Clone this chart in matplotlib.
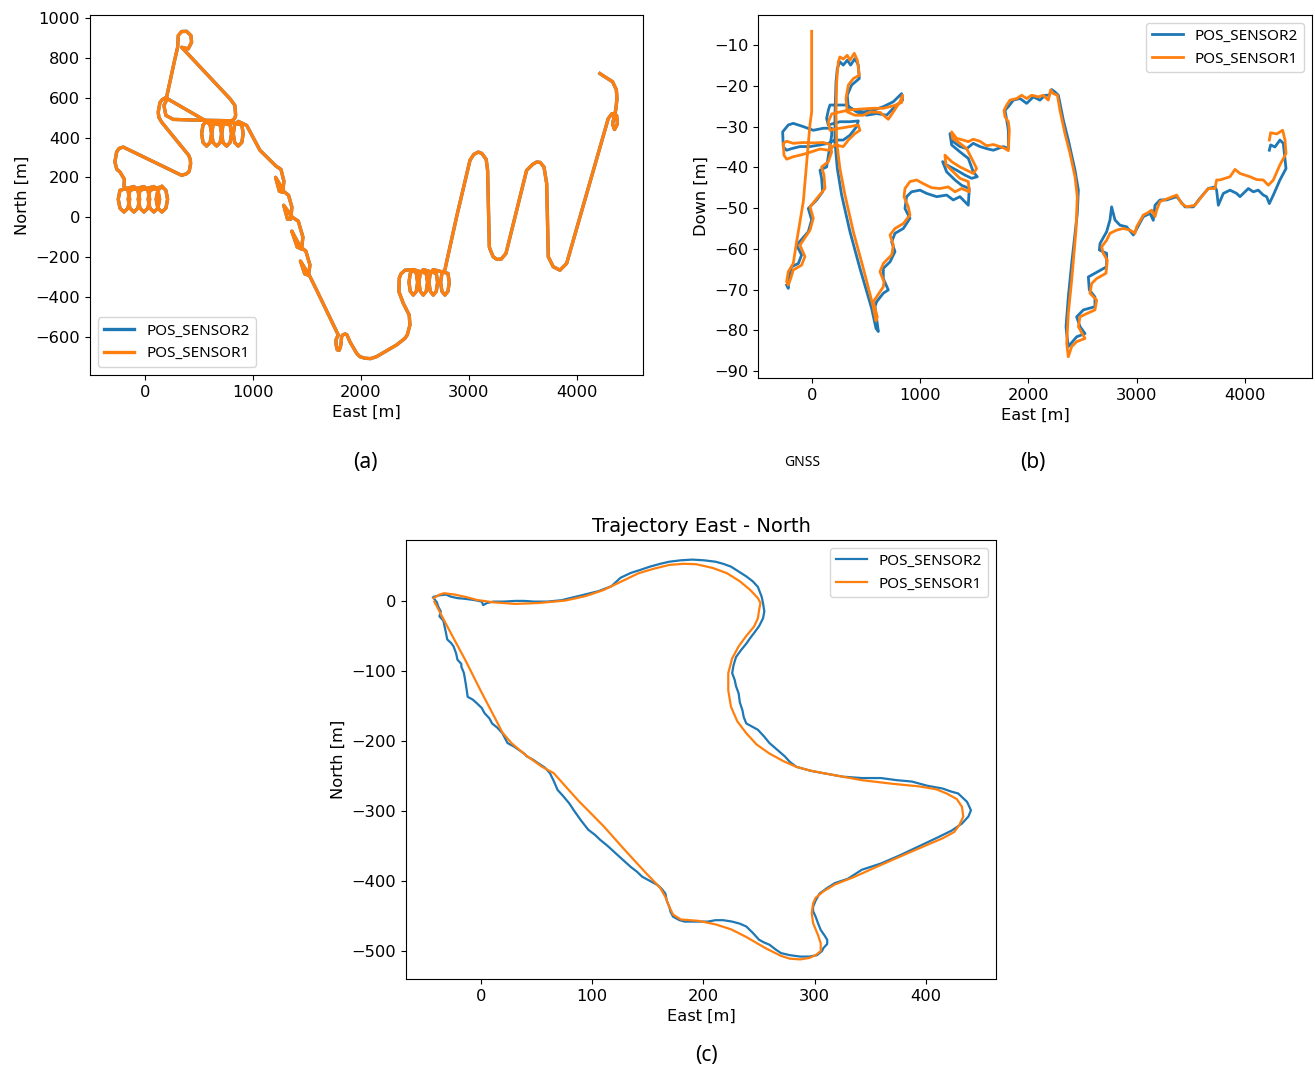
import matplotlib
matplotlib.use('Agg')
import matplotlib.pyplot as plt

BLUE = '#1f77b4'
ORANGE = '#ff7f0e'
LBL_FONT = ['Noto Sans', 'DejaVu Sans']

# ---------------- panel (a): East / North of the long flight (both sensors overlap)
a_pts = [
    (4213, 721), (4269, 701), (4330, 680), (4365, 640), (4371, 596), (4360, 540), (4343, 500),
    (4330, 468), (4348, 440), (4375, 468), (4368, 510), (4325, 520), (4290, 495),
    (3905, -232), (3843, -266), (3781, -249), (3735, -199), (3720, 169), (3695, 252), (3660, 275),
    (3627, 277), (3590, 265), (3534, 235), (3343, -182), (3300, -210), (3260, -212), (3225, -199),
    (3195, -160), (3189, -149), (3173, 235), (3160, 290), (3120, 320), (3086, 327), (3045, 315),
    (3010, 286), (2886, 2),
    (2778, -263), (2750, -282), (2738, -327), (2750, -372), (2778, -391), (2806, -372), (2818, -327), (2806, -282),
    (2670, -263), (2642, -282), (2630, -327), (2642, -372), (2670, -391), (2698, -372), (2710, -327), (2698, -282),
    (2577, -263), (2549, -282), (2537, -327), (2549, -372), (2577, -391), (2605, -372), (2617, -327), (2605, -282),
    (2485, -263), (2457, -282), (2445, -327), (2457, -372), (2485, -391), (2513, -372), (2525, -327), (2513, -282),
    (2485, -263),
    (2408, -266), (2370, -285), (2355, -307), (2352, -374), (2392, -432), (2447, -491), (2454, -541),
    (2430, -590), (2408, -608), (2331, -641), (2145, -700), (2090, -710), (2037, -708), (1990, -700),
    (1960, -683), (1898, -625), (1870, -590), (1852, -586), (1830, -592), (1821, -600), (1815, -640),
    (1800, -668), (1781, -666), (1770, -640), (1769, -616), (1790, -591),
    (1590, -366), (1530, -300), (1440, -220), (1480, -285), (1515, -291), (1528, -240), (1490, -170),
    (1440, -150), (1360, -70), (1410, -150), (1450, -160), (1463, -100), (1420, -20), (1365, 0),
    (1285, 60), (1320, -10), (1350, -10), (1361, 50), (1330, 110), (1290, 127), (1210, 200),
    (1245, 130), (1275, 125), (1287, 180), (1260, 240), (1215, 256), (1065, 336), (942, 461),
    (864, 481), (831, 463), (818, 419), (831, 375), (864, 357), (897, 375), (910, 419), (897, 463),
    (756, 481), (723, 463), (710, 419), (723, 375), (756, 357), (789, 375), (802, 419), (789, 463),
    (664, 481), (631, 463), (618, 419), (631, 375), (664, 357), (697, 375), (710, 419), (697, 463),
    (571, 481), (538, 463), (525, 419), (538, 375), (571, 357), (604, 375), (617, 419), (604, 463),
    (571, 481),
    (540, 491), (207, 595), (176, 561), (194, 511), (262, 491), (417, 488), (803, 484), (830, 495),
    (840, 511), (833, 561), (787, 595), (340, 853), (401, 845), (432, 878), (426, 912), (386, 933),
    (340, 932), (309, 912), (303, 853), (278, 795), (231, 678), (201, 603), (160, 590), (139, 575),
    (123, 527), (130, 500), (155, 477), (405, 311), (420, 290), (423, 269), (410, 230), (386, 218),
    (340, 210), (-201, 352), (-240, 345), (-262, 327), (-278, 277), (-260, 240), (-231, 227), (-190, 190),
    (-194, 154), (-157, 135), (-141, 90), (-157, 45), (-194, 26), (-231, 45), (-247, 90), (-231, 135),
    (-102, 154), (-65, 135), (-49, 90), (-65, 45), (-102, 26), (-139, 45), (-155, 90), (-139, 135),
    (-9, 154), (28, 135), (44, 90), (28, 45), (-9, 26), (-46, 45), (-62, 90), (-46, 135),
    (83, 154), (120, 135), (136, 90), (120, 45), (83, 26), (46, 45), (30, 90), (46, 135),
    (157, 154), (194, 135), (210, 90), (194, 45), (157, 26), (120, 45), (104, 90), (120, 135), (157, 154),
]
a_east = [p[0] for p in a_pts]
a_north = [p[1] for p in a_pts]

# ---------------- panel (b): East / Down
b_s1 = [
    (4225, -33.3), (4237, -31.5), (4293, -31.8), (4348, -30.9), (4370, -33.3), (4379, -36.6), (4323, -39.4),
    (4262, -43.1), (4216, -44.4), (4169, -43.1), (4108, -43.0), (4046, -42.3), (3954, -41.5), (3908, -40.5),
    (3862, -42.3), (3769, -43.1), (3738, -43.1), (3723, -45.2), (3661, -45.2), (3600, -47.2), (3538, -49.3),
    (3461, -49.7), (3415, -48.9), (3369, -46.8), (3292, -47.6), (3215, -48.4), (3184, -50.5), (3169, -52.1),
    (3138, -50.5), (3092, -51.3), (3061, -51.7), (2999, -54.6), (2984, -56.2), (2938, -55.4), (2876, -55.0),
    (2815, -55.4), (2753, -56.2), (2722, -57.9), (2676, -59.5), (2691, -61.1), (2728, -62.8), (2716, -66.0),
    (2630, -67.3), (2584, -68.5), (2568, -70.9), (2630, -72.6), (2614, -75.0), (2538, -75.9), (2476, -76.7),
    (2461, -79.1), (2522, -82.0), (2445, -82.8), (2399, -84.0), (2368, -86.5), (2353, -83.2), (2368, -75.9),
    (2399, -67.7), (2439, -55.4), (2451, -47.2), (2430, -42.3), (2384, -36.6), (2337, -31.7), (2291, -26.0),
    (2267, -22.3), (2230, -21.9), (2205, -21.0), (2183, -23.5), (2137, -22.3), (2091, -22.7), (2030, -22.3),
    (1983, -23.1), (1937, -22.3), (1891, -23.1), (1829, -23.5), (1799, -24.7), (1774, -26.0), (1783, -27.6),
    (1814, -28.8), (1823, -30.9), (1814, -35.9), (1783, -35.4), (1737, -34.9),
    (1675, -34.4), (1613, -34.7), (1552, -33.6), (1490, -33.1), (1444, -33.7), (1398, -33.3), (1336, -32.9),
    (1290, -31.3), (1299, -32.9), (1367, -34.1), (1429, -35.4), (1490, -38.6), (1521, -40.3), (1490, -41.5),
    (1429, -40.7), (1367, -39.9), (1290, -38.6), (1228, -37.0), (1238, -39.4), (1305, -41.1), (1367, -42.7),
    (1444, -43.5), (1453, -46.0), (1382, -45.2), (1321, -46.0), (1259, -44.8), (1182, -45.2), (1105, -45.0),
    (1028, -44.0), (967, -43.1), (905, -43.5), (859, -45.2), (850, -47.2), (890, -49.7), (905, -51.7),
    (844, -53.8), (767, -55.0), (721, -56.6), (752, -59.1), (736, -61.5), (659, -63.6), (628, -65.6),
    (665, -68.1), (659, -69.3), (597, -71.8), (566, -73.0), (582, -74.6), (603, -76.7), (591, -77.7),
    (566, -74.2), (474, -64.8), (382, -55.8), (305, -46.8), (258, -40.3), (228, -33.7), (222, -27.2),
    (228, -19.0), (243, -14.1), (258, -12.9), (289, -13.4), (326, -12.5), (351, -13.7), (391, -12.0),
    (419, -13.7), (437, -17.4), (382, -18.2), (336, -19.8), (314, -23.1), (326, -26.4), (397, -27.2),
    (474, -27.2), (536, -26.4), (628, -26.5), (705, -28.2), (751, -26.4), (813, -23.9), (837, -22.3),
    (828, -24.1), (751, -24.9), (659, -25.5), (567, -25.5), (443, -25.7), (351, -25.9), (258, -26.4),
    (182, -26.9), (151, -28.8), (166, -30.9), (258, -30.4), (351, -30.0), (428, -29.6), (443, -30.9),
    (397, -31.7), (336, -33.3), (289, -34.9), (212, -34.5), (151, -35.8), (74, -35.5), (-18, -36.3),
    (-80, -36.8), (-173, -37.4), (-234, -38.0), (-259, -37.0), (-265, -34.1), (-234, -33.6), (-173, -34.1),
    (-80, -33.9), (12, -34.0), (105, -33.9), (166, -34.4), (182, -36.2),
    (151, -38.6), (89, -39.9), (111, -41.9), (120, -45.2), (58, -47.2), (-18, -49.7), (12, -52.5),
    (-18, -55.4), (-111, -59.1), (-65, -61.9), (-96, -64.0), (-173, -65.2), (-197, -67.3), (-219, -68.9),
    (-234, -68.1), (-219, -65.6), (-173, -63.6), (-142, -58.3), (-80, -48.4), (-19, -29.6), (-3, -26.4),
    (-3, -6.6),
]
b_s2 = [
    (4225, -35.8), (4237, -34.5), (4277, -35.0), (4323, -33.3), (4354, -34.1), (4379, -40.3), (4323, -43.1),
    (4262, -46.8), (4225, -48.9), (4200, -47.2), (4169, -46.8), (4123, -45.6), (4077, -46.0), (4031, -45.2),
    (3954, -47.2), (3923, -46.4), (3862, -45.6), (3800, -46.4), (3754, -49.3), (3738, -45.6), (3723, -44.8),
    (3661, -45.2), (3584, -47.6), (3523, -49.7), (3446, -49.7), (3369, -47.2), (3277, -48.0), (3215, -48.0),
    (3169, -49.3), (3153, -53.0), (3123, -51.3), (3061, -52.1), (2969, -56.6), (2907, -54.6), (2845, -54.2),
    (2799, -52.9), (2768, -49.7), (2753, -52.9), (2722, -55.8), (2661, -58.7), (2655, -60.3), (2722, -61.1),
    (2722, -64.4), (2614, -66.0), (2553, -66.9), (2562, -70.1), (2614, -71.8), (2614, -74.2), (2507, -75.0),
    (2445, -76.7), (2476, -79.1), (2522, -80.8), (2445, -81.6), (2368, -84.0), (2353, -80.8), (2347, -79.1),
    (2368, -71.8), (2399, -63.6), (2451, -51.3), (2461, -45.6), (2430, -40.7), (2368, -33.3), (2322, -28.4),
    (2276, -22.3), (2245, -21.5), (2214, -20.9), (2193, -22.3), (2153, -22.3), (2106, -23.5), (2045, -22.7),
    (1983, -24.3), (1922, -23.1), (1860, -23.5), (1814, -25.1), (1783, -26.0), (1799, -28.4), (1814, -30.9),
    (1814, -35.4), (1768, -34.9), (1737, -35.2),
    (1675, -35.8), (1613, -35.4), (1552, -34.9), (1490, -34.1), (1429, -35.4), (1367, -34.9), (1305, -33.7),
    (1275, -31.7), (1290, -34.5), (1367, -36.2), (1444, -37.8), (1490, -41.1), (1527, -42.3), (1475, -42.7),
    (1413, -41.9), (1336, -40.7), (1244, -39.4), (1207, -38.6), (1244, -41.1), (1321, -43.1), (1382, -44.4),
    (1453, -45.2), (1444, -49.3), (1367, -47.2), (1305, -48.0), (1244, -46.8), (1152, -47.2), (1059, -46.4),
    (998, -45.6), (920, -46.0), (874, -47.2), (859, -50.1), (905, -52.5), (844, -55.0), (767, -56.2),
    (736, -58.3), (767, -60.7), (721, -63.2), (659, -64.8), (659, -67.3), (705, -70.1), (659, -70.9),
    (597, -73.0), (582, -74.2), (613, -80.3), (591, -79.5), (551, -74.6), (443, -64.8), (351, -55.8),
    (274, -46.8), (234, -40.3), (212, -33.7), (212, -27.2), (222, -19.0), (234, -15.7), (258, -14.1),
    (289, -14.9), (326, -13.7), (357, -14.9), (397, -13.3), (428, -14.9), (437, -18.2), (366, -19.8),
    (326, -22.3), (336, -25.5), (397, -25.9),
    (474, -26.4), (567, -26.0), (659, -25.1), (751, -23.9), (828, -21.9), (837, -23.5), (751, -25.5),
    (690, -27.2), (597, -26.8), (505, -27.2), (413, -26.4), (320, -24.7), (243, -24.7), (166, -24.7),
    (151, -26.0), (135, -28.0), (151, -29.6), (258, -28.8), (351, -28.8), (428, -28.6), (413, -30.0),
    (351, -32.1), (289, -33.3), (212, -33.3), (151, -34.1), (74, -34.5), (-18, -34.9), (-111, -34.9),
    (-188, -35.4), (-234, -35.8), (-265, -35.0), (-271, -31.3), (-219, -29.6), (-173, -29.2), (-80, -30.0),
    (12, -30.9), (105, -30.4), (182, -30.4), (182, -32.1),
    (135, -39.9), (74, -40.7), (89, -42.7), (98, -46.0), (43, -48.0), (-34, -50.1), (-3, -52.9),
    (-34, -55.8), (-142, -59.1), (-96, -61.5), (-126, -63.6), (-188, -64.4), (-209, -66.4), (-219, -69.7),
    (-234, -68.9),
]
b_east_s1 = [p[0] for p in b_s1]
b_down_s1 = [p[1] for p in b_s1]
b_east_s2 = [p[0] for p in b_s2]
b_down_s2 = [p[1] for p in b_s2]

# ---------------- panel (c): closed lap, East / North
c_s1 = [
    (-42.5, 3.9), (-37.3, 9), (-33.1, 11), (-23.4, 9), (-11.9, 5), (-3.7, 1.4), (11.2, -2), (30.8, -4.3),
    (51.6, -3), (75.8, 0.5), (94.3, 7), (110.4, 15.7), (126.6, 28), (141.6, 39.5), (155.4, 46), (169.3, 51.4),
    (182, 53), (193.5, 52.4), (208.5, 47), (221.2, 39.5), (232.7, 28), (242, 15.7), (248.9, 4), (251.2, -3),
    (250, -13), (248.9, -25), (245.4, -36.7), (238.5, -50), (231.6, -65), (225.8, -82), (222.3, -103),
    (222.3, -128), (224.7, -151), (230.4, -172), (238.5, -189), (247.7, -205), (259.3, -218), (272, -229),
    (283.5, -237), (295, -242), (307.7, -246), (325, -251), (342.3, -256), (368.9, -261), (394.3, -265),
    (409.2, -269), (418.5, -275), (427.7, -283), (432.3, -294), (433.5, -308), (430, -320), (425.4, -330),
    (415, -339), (404.6, -346), (382.7, -361), (359.6, -377), (334.3, -395), (318.1, -405), (307.7, -415),
    (300.8, -424), (298.5, -432), (297.3, -446), (298.5, -460), (303.1, -478), (305.4, -489), (305.4, -500),
    (300.8, -506), (295, -510), (287, -512), (277.7, -511), (269.7, -507), (255.8, -496), (238.5, -480),
    (224.7, -469), (210.8, -462), (195.8, -457), (179.7, -455), (172.7, -448), (169.3, -437), (165.8, -423),
    (161.2, -410), (148.5, -389), (130, -357), (110.4, -322), (87.4, -285), (65.4, -246), (55, -237),
    (40, -220), (27.4, -203), (19.3, -188), (13.5, -170), (-0.3, -128), (-14.2, -84), (-25.7, -50),
    (-35, -22), (-39.6, -8), (-41.9, -1),
]
c_s2 = [
    (-43, 5), (-39.6, -2), (-38.4, -8), (-36.1, -15), (-37.3, -22), (-33.8, -28), (-32.6, -37), (-31.5, -45),
    (-30.3, -55), (-26.9, -60), (-24.6, -65), (-22.3, -75), (-21.1, -84), (-17.6, -90), (-17.6, -94),
    (-15.3, -103), (-14.2, -113), (-13, -125), (-11.9, -137), (-7.3, -141), (-3.8, -146), (0.8, -153),
    (3.1, -160), (7.7, -168), (10, -175), (14.7, -181), (19.3, -189), (21.6, -196), (23.9, -203),
    (29.7, -208), (34.3, -213), (38.9, -218), (41.2, -222), (47, -227), (51.6, -232), (57.4, -238),
    (62, -246), (65.4, -257), (68.9, -270), (73.5, -278), (79.3, -289), (83.9, -300), (89.7, -313),
    (93.1, -320), (96.6, -327), (102.4, -334), (107, -341), (113.9, -350), (120.8, -360), (127.7, -370),
    (134.7, -380), (140.4, -387), (145, -394), (152, -400), (158.9, -406), (162.3, -411), (165.8, -418),
    (167, -428), (169.3, -437), (170.4, -444), (172.7, -451), (178.5, -456), (183.1, -458), (193.5, -458),
    (203.9, -458), (210.8, -456), (217.7, -456), (225.8, -458), (232.7, -461), (238.5, -465), (244.3, -474),
    (250, -484), (254.7, -488), (259.3, -491), (265, -498), (269.7, -503), (277.7, -506), (287, -508),
    (295, -508), (302, -506), (306.6, -500), (307.7, -496), (311.2, -490), (311.2, -484), (308.9, -478),
    (305.4, -470), (303.1, -461), (300.8, -451), (298.5, -443), (298.5, -437), (300.8, -428), (304.3, -418),
    (311.2, -410), (318.1, -403), (329.6, -397), (342.3, -384), (359.6, -375), (377, -363), (394.3, -350),
    (411.6, -337), (423.1, -328), (432.3, -318), (438.1, -308), (440.4, -299), (436.9, -287), (428.9, -275),
    (422, -272), (415, -268), (401.2, -264), (387.3, -258), (373.5, -256), (359.6, -253), (342.3, -253),
    (325, -251), (311.2, -247), (297.3, -243), (283.5, -237), (277.7, -230), (273.1, -222), (267.3, -214),
    (259.3, -203), (254.7, -194), (248.9, -184), (243.1, -179), (238.5, -175), (236.2, -166), (235, -156),
    (232.7, -145), (231.6, -132), (229.3, -122), (228.1, -113), (225.8, -103), (227, -92), (229.3, -80),
    (233.9, -70), (238.5, -61), (242, -53), (245.4, -46), (250, -36), (253.5, -25), (254.7, -15),
    (253.5, -3), (252.3, 6), (248.9, 20), (244.3, 28), (238.5, 35), (231.6, 42), (224.7, 49), (217.7, 53),
    (210.8, 56), (200.4, 58), (190, 59), (179.7, 58), (169.3, 56), (161.2, 53), (152, 49), (142.7, 44),
    (134.7, 40), (125.4, 33), (117.3, 21), (105.8, 14), (93.1, 9), (82.7, 5), (72.4, 1), (59.7, -1),
    (48.1, -1), (38.9, 0), (30.8, 0), (20.4, -1), (11.2, -1), (5.4, -3), (2, -6), (0.8, -1), (-5, 1),
    (-14.2, 3), (-21.1, 4), (-26.9, 6), (-31.5, 9), (-37.3, 8), (-41.9, 6),
]
c_east_s1 = [p[0] for p in c_s1]
c_north_s1 = [p[1] for p in c_s1]
c_east_s2 = [p[0] for p in c_s2]
c_north_s2 = [p[1] for p in c_s2]

plt.rcParams['font.size'] = 11.7
plt.rcParams['path.simplify'] = False

fig = plt.figure(figsize=(13.15, 10.71), dpi=100)

ax1 = fig.add_axes([0.0684, 0.6499, 0.4205, 0.3361])
ax1.plot(a_east, a_north, color=BLUE, lw=2.4, label='POS_SENSOR2')
ax1.plot(a_east, a_north, color=ORANGE, lw=2.4, label='POS_SENSOR1')
ax1.set_xlim(-509, 4611)
ax1.set_ylim(-792, 1015)
ax1.set_xticks([0, 1000, 2000, 3000, 4000])
ax1.set_yticks(range(-600, 1001, 200))
ax1.set_xlabel('East [m]')
ax1.set_ylabel('North [m]')
ax1.legend(loc='lower left', prop={'family': LBL_FONT, 'size': 11})

ax2 = fig.add_axes([0.5764, 0.6471, 0.4213, 0.3389])
ax2.plot(b_east_s2, b_down_s2, color=BLUE, lw=2.0, label='POS_SENSOR2')
ax2.plot(b_east_s1, b_down_s1, color=ORANGE, lw=2.0, label='POS_SENSOR1')
ax2.set_xlim(-499, 4619)
ax2.set_ylim(-91.7, -2.6)
ax2.set_xticks([0, 1000, 2000, 3000, 4000])
ax2.set_yticks(range(-90, -9, 10))
ax2.set_xlabel('East [m]')
ax2.set_ylabel('Down [m]')
ax2.legend(loc='upper right', prop={'family': LBL_FONT, 'size': 11})

ax3 = fig.add_axes([0.3087, 0.0859, 0.4487, 0.4099])
ax3.plot(c_east_s2, c_north_s2, color=BLUE, lw=1.6, label='POS_SENSOR2')
ax3.plot(c_east_s1, c_north_s1, color=ORANGE, lw=1.6, label='POS_SENSOR1')
ax3.set_xlim(-67.4, 462.9)
ax3.set_ylim(-540, 87)
ax3.set_xticks([0, 100, 200, 300, 400])
ax3.set_yticks(range(-500, 1, 100))
ax3.set_xlabel('East [m]')
ax3.set_ylabel('North [m]')
ax3.set_title('Trajectory East - North', fontsize=14)
ax3.legend(loc='upper right', prop={'family': LBL_FONT, 'size': 11})

fig.text(0.2776, 0.5686, '(a)', ha='center', va='center', family=LBL_FONT, fontsize=15)
fig.text(0.7856, 0.5686, '(b)', ha='center', va='center', family=LBL_FONT, fontsize=15)
fig.text(0.5369, 0.0149, '(c)', ha='center', va='center', family=LBL_FONT, fontsize=15)
fig.text(0.6099, 0.5677, 'GNSS', ha='center', va='center', family=LBL_FONT, fontsize=10)

fig.savefig('out.png', dpi=100)
